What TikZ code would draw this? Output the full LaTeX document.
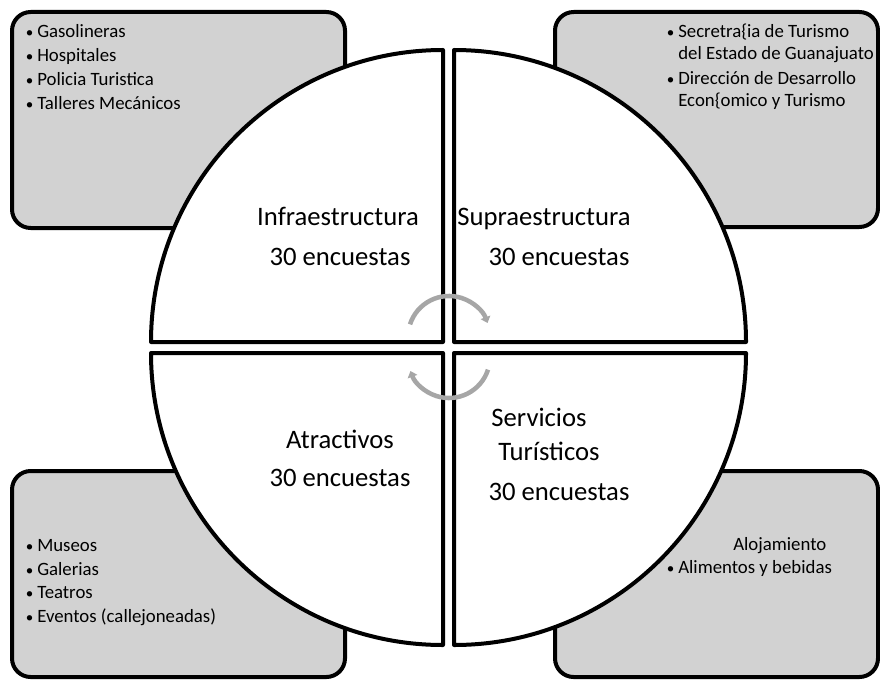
\documentclass[tikz,border=0pt]{standalone}
\usepackage{fontspec}
\setmainfont{Carlito}
\usetikzlibrary{arrows.meta}
\definecolor{boxgray}{RGB}{210,210,210}
\definecolor{arrowgray}{RGB}{166,166,166}
\tikzset{
  boxshape/.style={draw=black, fill=boxgray, line width=3pt, rounded corners=14pt},
  quad/.style={draw=black, fill=white, line width=3pt, line join=round},
  lbl/.style={inner sep=0pt, anchor=base, font=\fontsize{20}{24}\selectfont},
  item/.style={inner sep=0pt, anchor=base west, font=\fontsize{14.1}{17}\selectfont},
  cyc/.style={draw=arrowgray, line width=3.4pt, -{Triangle[width=7.5pt,length=4.5pt]}}
}
\newcommand{\bul}{\llap{\scalebox{0.8}{•}\hspace{3pt}}}
\begin{document}
\begin{tikzpicture}[x=0.75pt, y=0.75pt]
\useasboundingbox (0,0) rectangle (880,-681);
% corner boxes
\draw[boxshape] (12,-12) rectangle (345,-228);
\draw[boxshape] (555,-12) rectangle (878,-227);
\draw[boxshape] (12,-471) rectangle (345,-677);
\draw[boxshape] (555,-471) rectangle (878,-677);
% quadrants
\draw[quad] (443,-342) -- (151,-342) arc[start angle=180, end angle=90, radius=292] -- cycle;
\draw[quad] (454,-342) -- (454,-50) arc[start angle=90, end angle=0, radius=292] -- cycle;
\draw[quad] (443,-353) -- (151,-353) arc[start angle=180, end angle=270, radius=292] -- cycle;
\draw[quad] (454,-353) -- (746,-353) arc[start angle=0, end angle=-90, radius=292] -- cycle;
% cycle arrows
\draw[cyc] (449,-337) ++(162:41) arc[start angle=162, end angle=20, radius=41];
\draw[cyc] (449,-357) ++(-18:41) arc[start angle=-18, end angle=-160, radius=41];
% quadrant labels
\node[lbl] (infra) at (338,-225) {Infraestructura};
\node[lbl] (infran) at (340,-265) {30 encuestas};
\node[lbl] (supra) at (544,-225) {Supraestructura};
\node[lbl] (supran) at (559,-265) {30 encuestas};
\node[lbl] (atra) at (340,-448) {Atractivos};
\node[lbl] (atran) at (340,-486) {30 encuestas};
\node[lbl] (serv1) at (539,-426) {Servicios};
\node[lbl] (serv2) at (549,-460) {Turísticos};
\node[lbl] (servn) at (559,-500) {30 encuestas};
% top-left list
\node[item] (tl1) at (37,-38) {\bul Gasolineras};
\node[item] (tl2) at (37,-62) {\bul Hospitales};
\node[item] (tl3) at (37,-86) {\bul Policia Turistica};
\node[item] (tl4) at (37,-110) {\bul Talleres Mecánicos};
% top-right list
\node[item] (tr1) at (678,-38) {\bul Secretra\{ia de Turismo};
\node[item] (tr2) at (678,-60) {del Estado de Guanajuato};
\node[item] (tr3) at (678,-85) {\bul Dirección de Desarrollo};
\node[item] (tr4) at (678,-107) {Econ\{omico y Turismo};
% bottom-left list
\node[item] (bl1) at (37,-551) {\bul Museos};
\node[item] (bl2) at (37,-575) {\bul Galerias};
\node[item] (bl3) at (37,-598) {\bul Teatros};
\node[item] (bl4) at (37,-622) {\bul Eventos (callejoneadas)};
% bottom-right list
\node[item] (br1) at (733,-550) {Alojamiento};
\node[item] (br2) at (678,-573) {\bul Alimentos y bebidas};
\end{tikzpicture}
\end{document}
